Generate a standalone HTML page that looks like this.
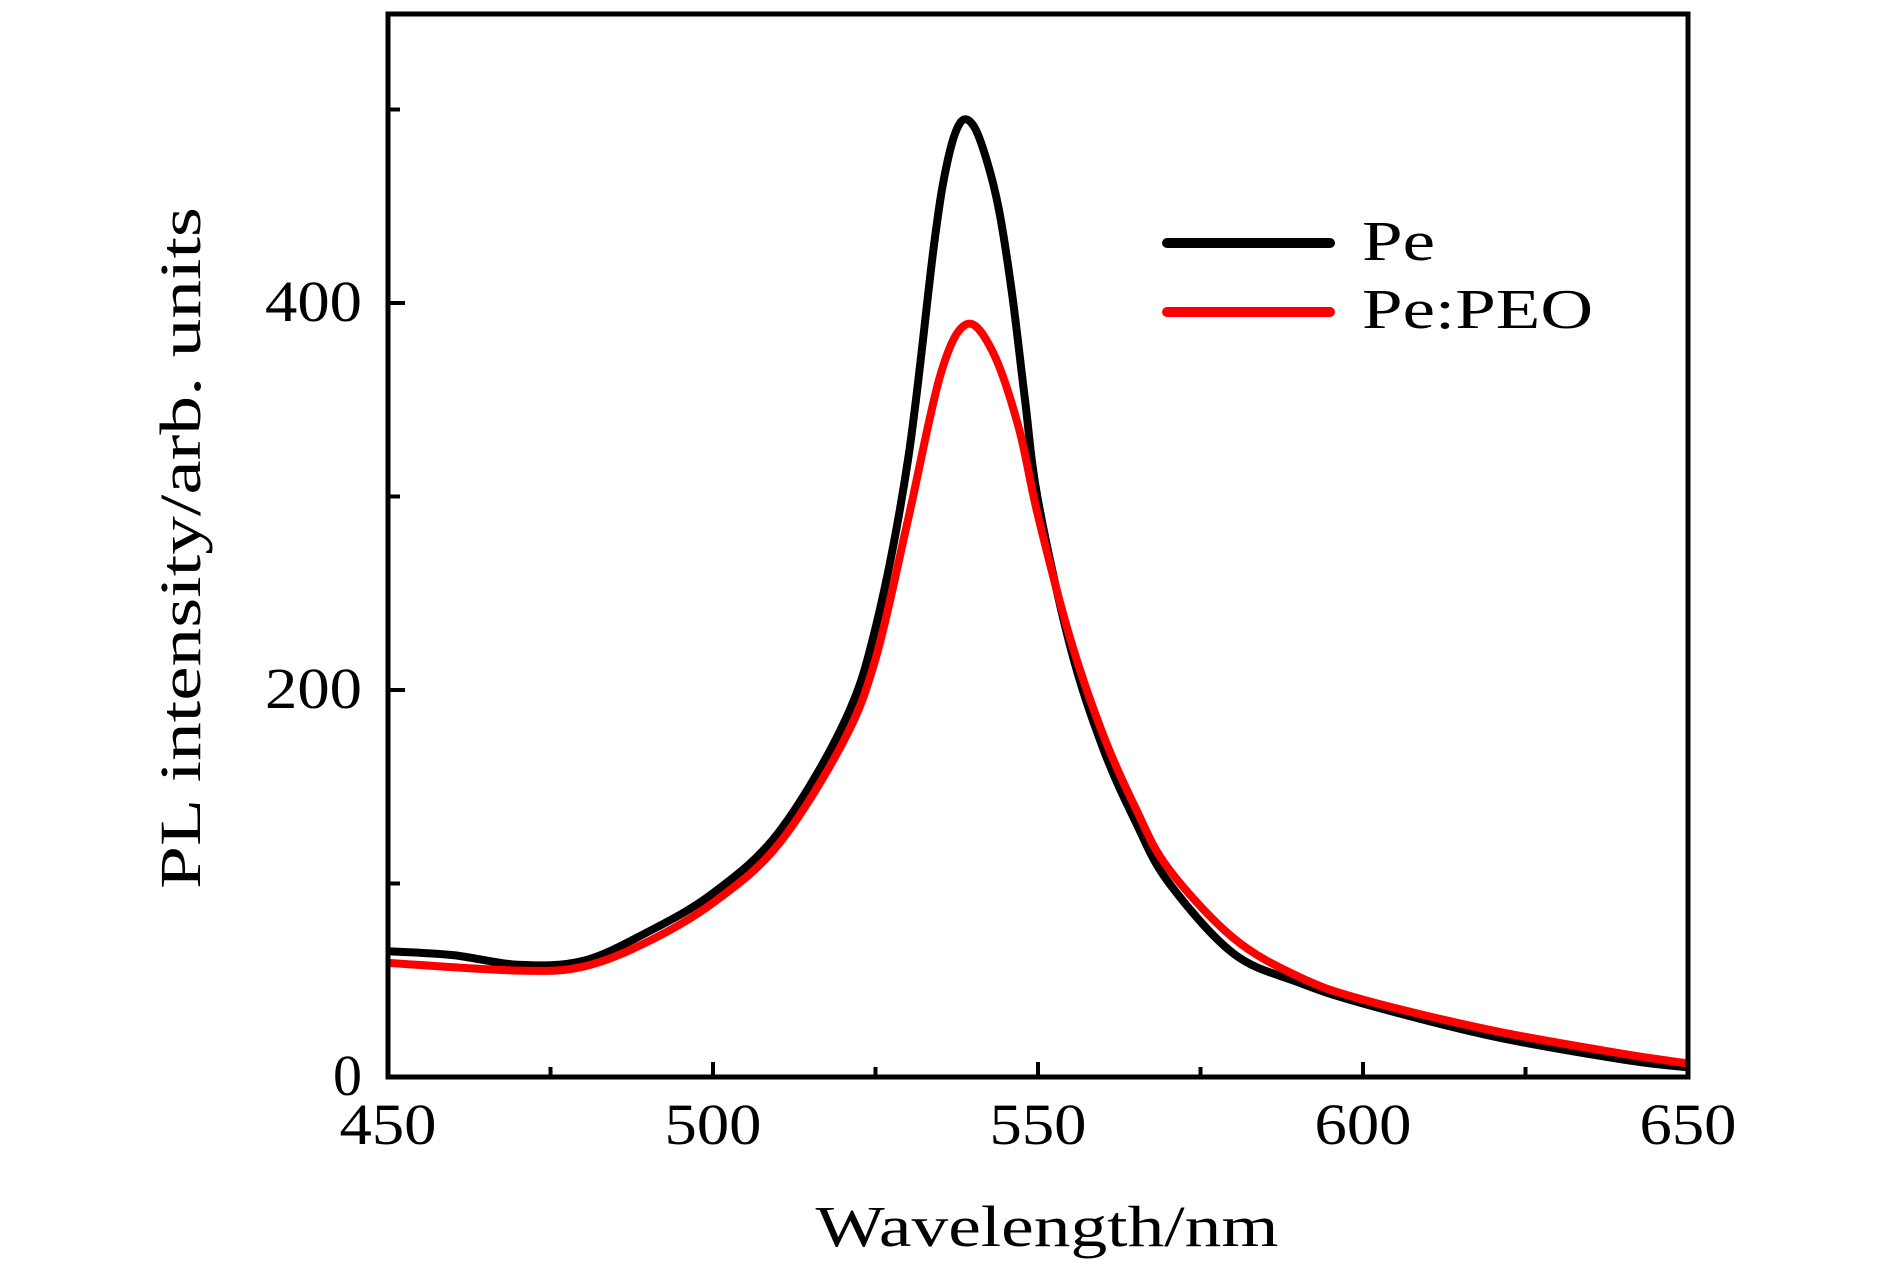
<!DOCTYPE html>
<html><head><meta charset="utf-8"><style>
html,body{margin:0;padding:0;background:#fff;}
svg{display:block;font-family:"Liberation Serif",serif;}
</style></head><body>
<svg id="chart" width="1890" height="1264" viewBox="0 0 1890 1264" xmlns="http://www.w3.org/2000/svg">
<g id="series"></g>
<rect x="388" y="14" width="1300" height="1063" fill="none" stroke="#000" stroke-width="5"/>
<g id="axes"></g>
<text x="1047" y="1246" font-size="58" text-anchor="middle" textLength="463" lengthAdjust="spacingAndGlyphs">Wavelength/nm</text>
<text transform="translate(200,548) rotate(-90)" font-size="58" text-anchor="middle" textLength="682" lengthAdjust="spacingAndGlyphs">PL intensity/arb. units</text>
<g>
<line x1="1167" y1="243" x2="1330" y2="243" stroke="#000" stroke-width="10" stroke-linecap="round"/>
<text x="1362" y="260" font-size="56" textLength="73" lengthAdjust="spacingAndGlyphs">Pe</text>
<line x1="1167" y1="312" x2="1330" y2="312" stroke="#f00" stroke-width="10" stroke-linecap="round"/>
<text x="1362" y="328" font-size="56" textLength="231" lengthAdjust="spacingAndGlyphs">Pe:PEO</text>
</g>
</svg>
<script>
const peX = [450,460,470,480,490,500,510,520,525,530,534,536,538,540,542,544,546,548,550,555,560,565,570,580,590,600,620,640,650];
const peY = [65,63,58,60,75,95,126,182,232,319,430,472,493,492,475,448,405,350,298,222,170,132,101,64,49,38,21,9,5];
const peoX = [450,470,480,490,500,510,520,525,530,535,539,543,547,550,555,560,565,570,580,590,600,620,640,650];
const peoY = [59,55,57,70,90,120,173,216,288,363,389,375,336,290,226,177,139,108,72,52,40,24,12,7];
const xTicks = [450,500,550,600,650];
const xMinor = [475,525,575,625];
const yTicks = [0,200,400];
const yMinor = [100,300,500];

const NS = "http://www.w3.org/2000/svg";
function sx(v){ return 388 + (v-450)*1300/200; }
function sy(v){ return 1077 - v*(1077-303)/400; }
function path(xs, ys){
  const p = xs.map((x,i)=>[sx(x), sy(ys[i])]);
  let d = "M"+p[0][0]+","+p[0][1];
  for(let i=0;i<p.length-1;i++){
    const p0=p[Math.max(0,i-1)], p1=p[i], p2=p[i+1], p3=p[Math.min(p.length-1,i+2)];
    const c1x=p1[0]+(p2[0]-p0[0])/6, c1y=p1[1]+(p2[1]-p0[1])/6;
    const c2x=p2[0]-(p3[0]-p1[0])/6, c2y=p2[1]-(p3[1]-p1[1])/6;
    d += " C"+c1x+","+c1y+" "+c2x+","+c2y+" "+p2[0]+","+p2[1];
  }
  return d;
}
const series = document.getElementById("series");
const s1 = document.createElementNS(NS,"path");


s1.setAttribute("d", path(peX, peY));
s1.setAttribute("fill","none"); s1.setAttribute("stroke","#000"); s1.setAttribute("stroke-width","8"); s1.setAttribute("stroke-linejoin","round");
series.appendChild(s1);
const s2 = document.createElementNS(NS,"path");


s2.setAttribute("d", path(peoX, peoY));
s2.setAttribute("fill","none"); s2.setAttribute("stroke","#f00"); s2.setAttribute("stroke-width","8"); s2.setAttribute("stroke-linejoin","round");
series.appendChild(s2);

const axes = document.getElementById("axes");
function mk(tag, attrs){ const e=document.createElementNS(NS,tag); for(const k in attrs) e.setAttribute(k,attrs[k]); axes.appendChild(e); return e; }
xTicks.forEach(v=>{
  const t = mk("line",{x1:sx(v),x2:sx(v),y1:1077,y2:1062,stroke:"#000","stroke-width":4});
  
  
  const l = mk("text",{x:sx(v),y:1144,"font-size":58,"text-anchor":"middle",textLength:97,lengthAdjust:"spacingAndGlyphs"});
  
  
  l.textContent = v;
});
xMinor.forEach(v=>{
  const t = mk("line",{x1:sx(v),x2:sx(v),y1:1077,y2:1067,stroke:"#000","stroke-width":4});
  
  
});
yTicks.forEach(v=>{
  const l = mk("text",{x:362,y:sy(v)+18,"font-size":58,"text-anchor":"end"});
  if(String(v).length===3){ l.setAttribute("textLength",97); l.setAttribute("lengthAdjust","spacingAndGlyphs"); }
  const t = mk("line",{x1:388,x2:405,y1:sy(v),y2:sy(v),stroke:"#000","stroke-width":4});
  
  
  
  
  l.textContent = v;
});
yMinor.forEach(v=>{
  const t = mk("line",{x1:388,x2:400,y1:sy(v),y2:sy(v),stroke:"#000","stroke-width":4});
  
  
});
</script>
</body></html>
